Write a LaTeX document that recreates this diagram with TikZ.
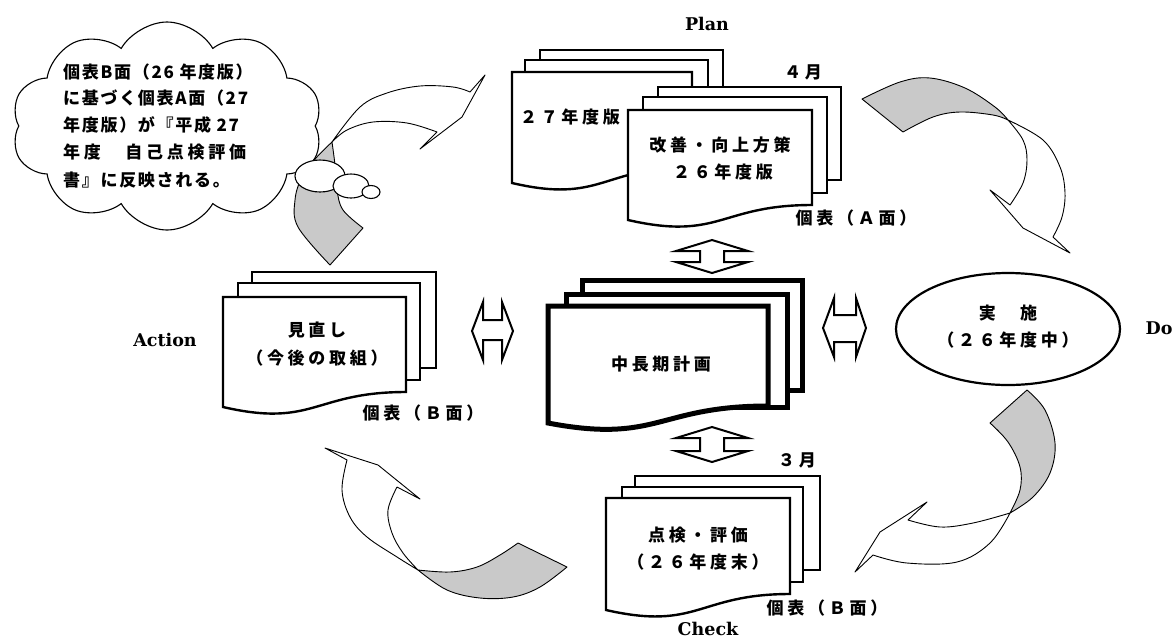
\documentclass[tikz,border=0pt]{standalone}
\usepackage{fontspec}
\newfontfamily\jp{Noto Sans CJK JP}[LetterSpace=22]
\newfontfamily\jpc{Noto Sans CJK JP}[LetterSpace=10]
\newfontfamily\lat{DejaVu Serif}
\usetikzlibrary{shapes.symbols,shapes.geometric}
\begin{document}
\begin{tikzpicture}[x=1pt,y=-1pt,
  doc/.style={draw, fill=white, line width=2.4pt, line join=miter},
  bigdoc/.style={draw, fill=white, line width=5pt, line join=miter},
  jt/.style={font=\jp\bfseries\fontsize{17}{20}\selectfont, inner sep=0pt},
  ct/.style={font=\jpc\bfseries\fontsize{17}{20}\selectfont, inner sep=0pt, anchor=west},
  lt/.style={font=\lat\bfseries\fontsize{17.5}{20}\selectfont, inner sep=0pt},
  grayp/.style={draw, fill=black!21, line width=0.9pt, line join=round},
  whitep/.style={draw, fill=white, line width=0.9pt, line join=round},
  dbl/.style={draw, fill=white, line width=2pt, line join=miter},
  bubble/.style={draw, fill=white, line width=1.1pt}]
\useasboundingbox (0,0) rectangle (1174,638);

% ---------- curved arrows ----------
% Plan -> Do
\path[grayp] plot[smooth, tension=0.6] coordinates {(862,99) (900,82) (930,78) (965,88) (995,107) (1008,120)}
  -- plot[smooth, tension=0.6] coordinates {(1008,120) (993,115) (960,112) (933,117) (903,132)} -- cycle;
\path[whitep] plot[smooth, tension=0.6] coordinates {(1008,120) (1043,140) (1060,167) (1065,193) (1062,217) (1053,237)}
  -- (1070,253) -- (1023,228) -- (990,190) -- (1010,205)
  -- plot[smooth, tension=0.6] coordinates {(1010,205) (1023,183) (1027,160) (1023,140) (1008,120)} -- cycle;
% Do -> Check
\path[grayp] plot[smooth, tension=0.6] coordinates {(1027,390) (1045,410) (1055,443) (1050,473) (1033,497) (1010,513)}
  -- plot[smooth, tension=0.6] coordinates {(1010,513) (1020,490) (1020,467) (1008,442) (990,423)} -- cycle;
\path[whitep] plot[smooth, tension=0.6] coordinates {(1010,513) (973,523) (940,527) (908,520)}
  -- (927,502) -- (880,532) -- (855,572) -- (873,555)
  -- plot[smooth, tension=0.6] coordinates {(873,555) (907,563) (957,562) (990,543) (1010,513)} -- cycle;
% Check -> Action
\path[grayp] plot[smooth, tension=0.6] coordinates {(518,543) (500,555) (477,567) (450,572) (418,570)}
  -- plot[smooth, tension=0.6] coordinates {(418,570) (447,590) (480,598) (513,597) (540,587) (567,567)} -- cycle;
\path[whitep] plot[smooth, tension=0.6] coordinates {(418,570) (397,557) (367,537) (350,517) (342,490) (347,460)}
  -- (325,448) -- (378,465) -- (420,499) -- (397,487)
  -- plot[smooth, tension=0.6] coordinates {(397,487) (388,510) (392,533) (403,553) (418,570)} -- cycle;
% Action -> Plan
\path[grayp] plot[smooth, tension=0.6] coordinates {(330,265) (298,227) (295,200) (302,177) (316,158) (332,142)}
  -- plot[smooth, tension=0.6] coordinates {(332,142) (335,165) (337,190) (343,210) (363,228)} -- cycle;
\path[whitep] plot[smooth, tension=0.6] coordinates {(332,142) (360,107) (387,93) (420,86) (453,87) (470,92)}
  -- (485,75) -- (462,117) -- (420,149) -- (437,132)
  -- plot[smooth, tension=0.6] coordinates {(437,132) (407,123) (373,122) (347,130) (332,142)} -- cycle;

% ---------- thought cloud ----------
\node[cloud, cloud ignores aspect, draw, fill=white, line width=1.1pt, cloud puffs=10, cloud puff arc=120,
      minimum width=311pt, minimum height=208pt, inner sep=0pt] (cloud) at (167,126) {};
\node[bubble, ellipse, minimum width=50pt, minimum height=32pt, inner sep=0pt] (b1) at (320,176) {};
\node[bubble, ellipse, minimum width=36pt, minimum height=24pt, inner sep=0pt] (b2) at (351,186) {};
\node[bubble, ellipse, minimum width=18pt, minimum height=13pt, inner sep=0pt] (b3) at (371,192) {};
\node[ct] (c1) at (63,72)  {個表B面（26 年度版）};
\node[ct] (c2) at (63,98)  {に基づく個表A面（27};
\node[ct] (c3) at (63,125) {年度版）が『平成 27};
\node[jt, anchor=west] (c4) at (63,152) {年度　自己点検評価};
\node[ct] (c5) at (63,180) {書』に反映される。};

% ---------- Plan stacks ----------
\path[doc] (540,50) rectangle (723,150);
\path[doc] (525,60) rectangle (708,150);
\path[doc] (512,72) -- (692,72) -- (692,167) .. controls (602,167) and (602,204) .. (512,183) -- cycle;
\node[jt] (p27) at (570,117) {２７年度版};

\path[doc] (658,87) rectangle (841,180);
\path[doc] (643,97) rectangle (827,193);
\path[doc] (628,110) -- (812,110) -- (812,205) .. controls (720,205) and (720,241) .. (628,220) -- cycle;
\node[jt] (pa1) at (720,145) {改善・向上方策};
\node[jt] (pa2) at (723,172) {２６年度版};
\node[jt] (m4) at (803,72) {４月};
\node[jt] (ka) at (856,218) {個表（Ａ面）};
\node[lt] (plan) at (707,24) {Plan};

% ---------- central stack ----------
\path[bigdoc] (582,280) rectangle (802,390);
\path[bigdoc] (566,294) rectangle (787,407);
\path[bigdoc] (548,306) -- (768,306) -- (768,406) .. controls (658,406) and (658,444) .. (548,423) -- cycle;
\node[jt] (mid) at (661,364) {中長期計画};

% ---------- Action stack ----------
\path[doc] (252,272) rectangle (436,368);
\path[doc] (238,283) rectangle (420,380);
\path[doc] (223,297) -- (406,297) -- (406,392) .. controls (314,392) and (314,428) .. (223,407) -- cycle;
\node[jt] (act1) at (317,330) {見直し};
\node[jt] (act2) at (317,358) {（今後の取組）};
\node[jt] (kb1) at (423,413) {個表（Ｂ面）};
\node[lt] (action) at (165,340) {Action};

% ---------- Check stack ----------
\path[doc] (635,476) rectangle (820,570);
\path[doc] (622,487) rectangle (803,582);
\path[doc] (606,498) -- (790,498) -- (790,594) .. controls (698,594) and (698,631) .. (606,610) -- cycle;
\node[jt] (chk1) at (698,535) {点検・評価};
\node[jt] (chk2) at (698,562) {（２６年度末）};
\node[jt] (m3) at (797,460) {３月};
\node[jt] (kb2) at (827,608) {個表（Ｂ面）};
\node[lt, anchor=base] (check) at (708,635) {Check};

% ---------- Do ----------
\node[draw, ellipse, line width=2.2pt, minimum width=224pt, minimum height=112pt, inner sep=0pt] (do) at (1008,329) {};
\node[jt] (do1) at (1008,313) {実　施};
\node[jt] (do2) at (1008,340) {（２６年度中）};
\node[lt] (dolbl) at (1159,328) {Do};

% ---------- double arrows ----------
\path[dbl] (712,240) -- (748,251) -- (724,251) -- (724,262) -- (748,262) -- (712,273)
  -- (676,262) -- (700,262) -- (700,251) -- (676,251) -- cycle;
\path[dbl] (712,427) -- (748,438) -- (724,438) -- (724,451) -- (748,451) -- (712,462)
  -- (676,451) -- (700,451) -- (700,438) -- (676,438) -- cycle;
\path[dbl] (472,331) -- (483,302) -- (483,320) -- (502,320) -- (502,302) -- (513,331)
  -- (502,360) -- (502,340) -- (483,340) -- (483,360) -- cycle;
\path[dbl] (823,328) -- (834,298) -- (834,315) -- (856,315) -- (856,298) -- (866,328)
  -- (856,357) -- (856,342) -- (834,342) -- (834,357) -- cycle;
\end{tikzpicture}
\end{document}
